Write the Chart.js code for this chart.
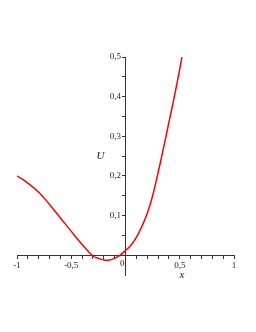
<!DOCTYPE html>
<html>
<head>
<meta charset="utf-8">
<script src="https://cdn.jsdelivr.net/npm/chart.js@4"></script>
<style>
  html, body { margin: 0; padding: 0; background: #fff; }
  #wrap { width: 256px; height: 332px; }
</style>
</head>
<body>
<div id="wrap"><canvas id="myChart" width="256" height="332"></canvas></div>
<script>
  // values
  const xValues = [-1, -0.9, -0.8, -0.7, -0.6, -0.5, -0.4, -0.3, -0.25, -0.2, -0.15, -0.1, -0.05, 0,
    0.05, 0.1, 0.15, 0.2, 0.25, 0.3, 0.35, 0.4, 0.45, 0.5, 0.52];
  const uValues = [0.200, 0.182, 0.159, 0.128, 0.094, 0.060, 0.027, -0.002, -0.008, -0.012, -0.012, -0.008, 0.000, 0.012,
    0.025, 0.045, 0.072, 0.105, 0.150, 0.208, 0.270, 0.335, 0.400, 0.470, 0.500];
  const xLabels = { '-1': '-1', '-0.5': '-0,5', '0.5': '0,5', '1': '1' };
  const yLabels = { '0.1': '0,1', '0.2': '0,2', '0.3': '0,3', '0.4': '0,4', '0.5': '0,5' };

  const font = { family: '"Liberation Serif", "DejaVu Serif", serif', size: 9 };
  const axisColor = '#333';

  // axis names and the origin "0"
  const axisText = {
    id: 'axisText',
    afterDraw(chart) {
      const { ctx, scales } = chart;
      const x0 = scales.x.getPixelForValue(0);
      const y0 = scales.y.getPixelForValue(0);
      ctx.save();
      ctx.fillStyle = '#222';
      ctx.font = '9px ' + font.family;
      ctx.textAlign = 'right';
      ctx.textBaseline = 'top';
      ctx.fillText('0', x0 - 1, y0 + 4);
      ctx.font = 'italic 11px ' + font.family;
      ctx.textAlign = 'center';
      ctx.textBaseline = 'middle';
      ctx.fillText('U', x0 - 25, scales.y.getPixelForValue(0.25));
      ctx.fillText('x', scales.x.getPixelForValue(0.52), y0 + 20);
      ctx.restore();
    }
  };

  let myChart = document.getElementById('myChart').getContext('2d');

  let chart = new Chart(myChart, {
    type: 'scatter',
    data: {
      datasets: [{
        data: xValues.map((x, i) => ({ x: x, y: uValues[i] })),
        showLine: true,
        borderColor: '#ff0000',
        borderWidth: 1.5,
        pointRadius: 0,
        tension: 0.4
      }]
    },
    options: {
      responsive: false,
      animation: false,
      layout: {
        padding: { left: 17, right: 22, top: 57, bottom: 57 }
      },
      plugins: {
        legend: { display: false },
        tooltip: { enabled: false }
      },
      scales: {
        x: {
          type: 'linear',
          position: { y: 0 },
          min: -1,
          max: 1,
          grid: { drawOnChartArea: false, tickLength: 3, color: axisColor },
          border: { color: axisColor, width: 1 },
          ticks: {
            stepSize: 0.1,
            autoSkip: false,
            maxRotation: 0,
            padding: 2,
            color: '#222',
            font: font,
            callback: (v) => xLabels[String(Math.round(v * 10) / 10)] || ''
          }
        },
        y: {
          type: 'linear',
          position: { x: 0 },
          min: -0.05,
          max: 0.5,
          afterBuildTicks: (scale) => {
            scale.ticks = scale.ticks.filter(t => t.value > 0.001);
          },
          grid: { drawOnChartArea: false, tickLength: 3, color: axisColor },
          border: { color: axisColor, width: 1 },
          ticks: {
            stepSize: 0.05,
            autoSkip: false,
            padding: 2,
            color: '#222',
            font: font,
            // trailing spaces keep the label clear of the tick marks
            callback: (v) => {
              const s = yLabels[String(Math.round(v * 100) / 100)];
              return s ? s + '  ' : '';
            }
          }
        }
      }
    },
    plugins: [axisText]
  });
</script>
</body>
</html>
